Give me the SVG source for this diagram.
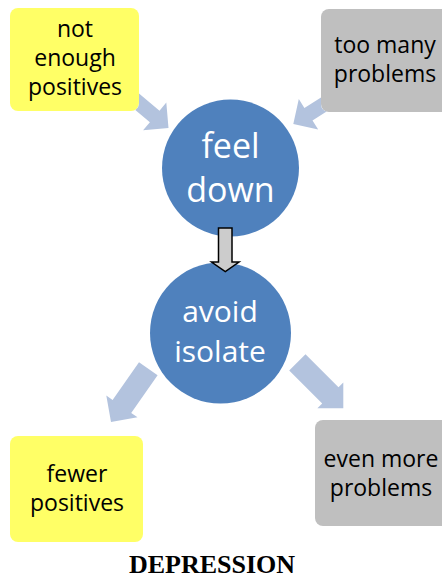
<svg xmlns="http://www.w3.org/2000/svg" width="442" height="579" viewBox="0 0 442 579">
<style>
.yellow{fill:#ffff66}
.gray{fill:#bfbfbf}
.circ{fill:#4f81bd}
.bt{font-family:"Open Sans","Liberation Sans",sans-serif;font-size:23px;fill:#000;text-anchor:middle}
.ct{font-family:"Open Sans","Liberation Sans",sans-serif;fill:#fff;text-anchor:middle}
.arr{fill:#b3c3de}
.down{fill:#cccccc;stroke:#000;stroke-width:1.5;stroke-linejoin:miter}
.title{font-family:"Liberation Serif","Times New Roman",serif;font-weight:bold;font-size:26px;fill:#000;text-anchor:middle}
</style>
<rect width="442" height="579" fill="#fff"/>
<g id="not-enough-positives">
<rect class="yellow" x="10" y="8" width="129" height="103" rx="8"/>
<text class="bt" x="75" y="37">not</text>
<text class="bt" x="75" y="66">enough</text>
<text class="bt" x="75" y="95">positives</text>
</g>
<g id="too-many-problems">
<rect class="gray" x="321" y="9" width="130" height="103" rx="8"/>
<text class="bt" x="385" y="53">too many</text>
<text class="bt" x="385" y="82">problems</text>
</g>
<g id="feel-down">
<circle class="circ" cx="230.5" cy="168" r="68.5"/>
<text class="ct" x="230.5" y="158" font-size="34">feel</text>
<text class="ct" x="230.5" y="202" font-size="34">down</text>
</g>
<g id="avoid-isolate">
<circle class="circ" cx="220.5" cy="333" r="70.5"/>
<text class="ct" x="220" y="322" font-size="30">avoid</text>
<text class="ct" x="220" y="362" font-size="30">isolate</text>
</g>
<g id="fewer-positives">
<rect class="yellow" x="10" y="436" width="133" height="106" rx="8"/>
<text class="bt" x="77" y="482">fewer</text>
<text class="bt" x="77" y="511">positives</text>
</g>
<g id="even-more-problems">
<rect class="gray" x="315" y="420" width="135" height="106" rx="8"/>
<text class="bt" x="381" y="467">even more</text>
<text class="bt" x="381" y="496">problems</text>
</g>
<g id="connectors">
<path class="arr" d="M139,93.45 L159.5,110.7 L166.3,102.6 L168.5,128 L143.1,130.2 L149.9,122.2 L135.3,109.9 A8,8 0 0 0 139,103 Z"/>
<path class="arr" d="M321,97.4 L304.4,108 L298.8,99.1 L293.3,124 L318.2,129.5 L312.5,120.6 L326.6,111.6 A8,8 0 0 1 321,104 Z"/>
<polygon class="down" points="218.5,228 232,228 232,262 239,262 225.3,271.5 211.5,262 218.5,262"/>
<polygon class="arr" points="139,362.3 112.6,399.9 106.3,395.5 111,422 137.5,417.3 131.2,413 157.6,375.3"/>
<polygon class="arr" points="305.5,354.2 338.5,387.2 343.3,382.4 343.3,408.3 317.4,408.3 322.2,403.5 289.2,370.5"/>
</g>
<text class="title" x="212" y="573">DEPRESSION</text>
</svg>
